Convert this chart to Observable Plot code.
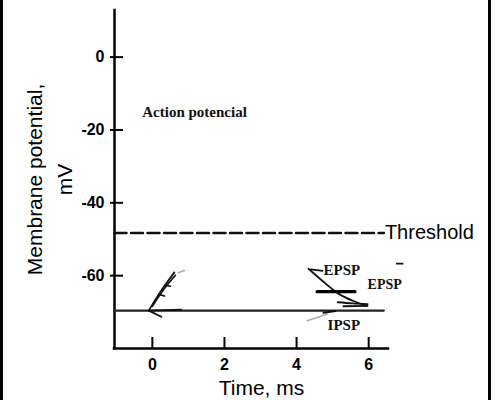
<!DOCTYPE html>
<html>
<head>
<meta charset="utf-8">
<script src="https://cdn.jsdelivr.net/npm/d3@7"></script>
<script src="https://cdn.jsdelivr.net/npm/@observablehq/plot@0.6"></script>
<style>
  html, body { margin: 0; padding: 0; background: #fff; }
  #wrap { position: relative; width: 499px; height: 400px; overflow: hidden; }
  #border { position: absolute; left: 0; top: 0; width: 485px; height: 400px;
            border-left: 3px solid #000; border-right: 3px solid #000; pointer-events: none; }
  #wrap svg { position: absolute; left: 0; top: 0; }
</style>
</head>
<body>
<div id="wrap"><div id="border"></div></div>
<script>
// ---- data ----
const xTicks = [0, 2, 4, 6];
const yTicks = [0, -20, -40, -60];
const xDomain = [-1.05, 6.55];
const yDomain = [-80, 12.8];
const xLabel = "Time, ms";
const yLabel = "Membrane potential,\nmV";

const restingPotential = -69.6;
const restingSpan = [-1.05, 6.42];
const thresholdPotential = -48.3;
const thresholdSpan = [-1.05, 6.42];
const thresholdLabel = "Threshold";

// strokes of the hand-drawn traces: [time ms, potential mV]
const actionStrokes = [
  [[-0.10, -69.6], [0.22, -64.5], [0.61, -59.1]],
  [[0.00, -68.4], [0.33, -63.6], [0.64, -59.9]],
  [[0.20, -65.2], [0.34, -65.6]],
  [[0.36, -62.6], [0.50, -62.9]],
  [[-0.10, -69.6], [0.25, -71.3]],
  [[-0.10, -69.6], [0.80, -69.3]]
];
const faintActionStrokes = [
  [[0.72, -59.2], [0.89, -58.6]]
];
const epspStrokes = [
  [[4.33, -58.1], [4.81, -62.2], [5.17, -65.0], [5.56, -66.9], [5.94, -68.3]],
  [[5.14, -67.3], [5.55, -67.6], [5.97, -67.8]],
  [[5.30, -68.4], [5.97, -68.3]],
  [[4.40, -58.3], [4.72, -58.7]],
  [[6.78, -56.7], [6.94, -56.7]]
];
const epspBar = [[4.57, -64.4], [5.62, -64.4]];
const ipspStrokes = [
  [[4.75, -70.2], [5.08, -69.7]]
];
const faintIpspStrokes = [
  [[4.30, -72.4], [4.86, -70.5]]
];

const traceLabels = [
  {text: "Action potencial", t: -0.28, v: -15.1},
  {text: "EPSP", t: 4.75, v: -58.6},
  {text: "IPSP", t: 4.86, v: -73.7}
];
const traceLabels2 = [
  {text: "EPSP", t: 5.97, v: -62.5}
];

// ---- build tables ----
const toRows = (strokes) => strokes.flatMap((s, i) => s.map(([t, v]) => ({t, v, id: i})));

const W = 499, H = 400;
const mL = 114, mR = 111, mT = 10, mB = 52;
const frameW = W - mL - mR, frameH = H - mT - mB;

const chart = Plot.plot({
  width: W,
  height: H,
  marginLeft: mL,
  marginRight: mR,
  marginTop: mT,
  marginBottom: mB,
  x: {domain: xDomain, axis: null},
  y: {domain: yDomain, axis: null},
  style: {fontFamily: "'Liberation Sans', Arial, sans-serif", fontSize: "16px", background: "transparent", overflow: "visible"},
  marks: [
    // axes lines
    Plot.ruleX([xDomain[0]], {stroke: "#000", strokeWidth: 2.5, strokeLinecap: "square"}),
    Plot.ruleY([yDomain[0]], {stroke: "#000", strokeWidth: 2.5, strokeLinecap: "square"}),
    // inward ticks
    Plot.tickX(xTicks, {x: d => d, insetTop: frameH - 11, stroke: "#000", strokeWidth: 2}),
    Plot.tickY(yTicks, {y: d => d, insetRight: frameW - 13, dx: -4, stroke: "#000", strokeWidth: 2}),
    Plot.axisX(xTicks, {tickSize: 0, tickPadding: 10, tickFormat: d => String(d), fontSize: 16, fontWeight: "bold", label: null, fill: "#000"}),
    Plot.axisY(yTicks, {tickSize: 0, tickPadding: 10, tickFormat: d => String(d), fontSize: 16, fontWeight: "bold", label: null, fill: "#000"}),
    // axis titles
    Plot.text([xLabel], {frameAnchor: "bottom", dx: 10, dy: 40, lineAnchor: "middle", textAnchor: "middle", fontSize: 21, fill: "#000"}),
    Plot.text([yLabel], {frameAnchor: "left", rotate: -90, dx: -67, lineAnchor: "middle", textAnchor: "middle", lineHeight: 1.45, fontSize: 21, fill: "#000"}),
    // threshold
    Plot.line(thresholdSpan.map(t => ({t, v: thresholdPotential})), {x: "t", y: "v", stroke: "#111", strokeWidth: 2.5, strokeDasharray: "12,4.5"}),
    Plot.text([thresholdLabel], {x: thresholdSpan[1] + 0.03, y: thresholdPotential, textAnchor: "start", fontSize: 20, fill: "#000"}),
    // resting potential
    Plot.line(restingSpan.map(t => ({t, v: restingPotential})), {x: "t", y: "v", stroke: "#222", strokeWidth: 2.2}),
    // traces
    Plot.line(toRows(actionStrokes), {x: "t", y: "v", z: "id", curve: "catmull-rom", stroke: "#111", strokeWidth: 1.7}),
    Plot.line(toRows(faintActionStrokes), {x: "t", y: "v", z: "id", stroke: "#aaa", strokeWidth: 1.5}),
    Plot.line(toRows(epspStrokes), {x: "t", y: "v", z: "id", curve: "catmull-rom", stroke: "#111", strokeWidth: 1.8}),
    Plot.line(epspBar.map(([t, v]) => ({t, v})), {x: "t", y: "v", stroke: "#000", strokeWidth: 3.2}),
    Plot.line(toRows(ipspStrokes), {x: "t", y: "v", z: "id", stroke: "#111", strokeWidth: 2}),
    Plot.line(toRows(faintIpspStrokes), {x: "t", y: "v", z: "id", stroke: "#aaa", strokeWidth: 1.5}),
    // labels
    Plot.text(traceLabels, {x: "t", y: "v", text: "text", textAnchor: "start", fontFamily: "'Liberation Serif', 'Times New Roman', serif", fontWeight: "bold", fontSize: 15, fill: "#111"}),
    Plot.text(traceLabels2, {x: "t", y: "v", text: "text", textAnchor: "start", fontFamily: "'Liberation Serif', 'Times New Roman', serif", fontWeight: "bold", fontSize: 14, fill: "#111"})
  ]
});
document.getElementById("wrap").appendChild(chart);
</script>
</body>
</html>
